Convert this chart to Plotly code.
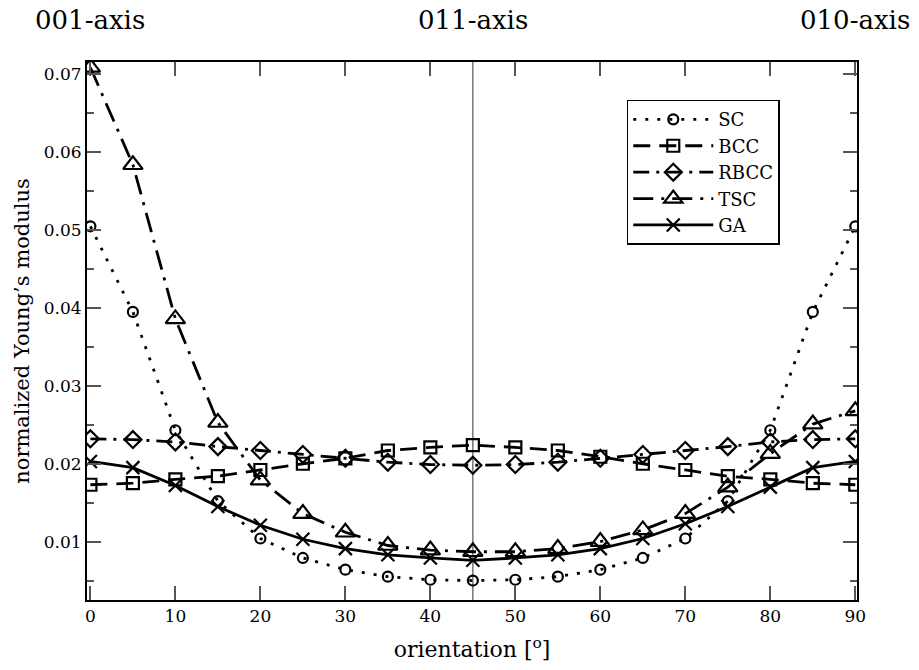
import plotly.graph_objects as go

orientation = [0, 5, 10, 15, 20, 25, 30, 35, 40, 45, 50, 55, 60, 65, 70, 75, 80, 85, 90]

sc = [0.0505, 0.0395, 0.0243, 0.0152, 0.0104, 0.0079, 0.0064, 0.0055, 0.0051, 0.0050,
      0.0051, 0.0055, 0.0064, 0.0079, 0.0104, 0.0152, 0.0243, 0.0395, 0.0505]
bcc = [0.0173, 0.0175, 0.0180, 0.0184, 0.0192, 0.0200, 0.0207, 0.0217, 0.0221, 0.0224,
       0.0221, 0.0217, 0.0209, 0.0200, 0.0192, 0.0184, 0.0180, 0.0175, 0.0173]
rbcc = [0.0232, 0.0231, 0.0228, 0.0222, 0.0217, 0.0212, 0.0207, 0.0202, 0.0199, 0.0198,
        0.0199, 0.0202, 0.0207, 0.0212, 0.0217, 0.0222, 0.0228, 0.0231, 0.0232]
tsc = [0.0709, 0.0584, 0.0386, 0.0253, 0.0179, 0.0136, 0.0112, 0.0095, 0.0089, 0.0087,
       0.0087, 0.0091, 0.0100, 0.0115, 0.0136, 0.0170, 0.0213, 0.0251, 0.0268]
ga = [0.0203, 0.0195, 0.0172, 0.0145, 0.0121, 0.0103, 0.0091, 0.0083, 0.0079, 0.0076,
      0.0079, 0.0083, 0.0091, 0.0104, 0.0123, 0.0145, 0.0170, 0.0195, 0.0203]

y_ticks = [0.01, 0.02, 0.03, 0.04, 0.05, 0.06, 0.07]
y_tick_labels = ["0.01", "0.02", "0.03", "0.04", "0.05", "0.06", "0.07"]
x_ticks = [0, 10, 20, 30, 40, 50, 60, 70, 80, 90]
top_labels = ["001-axis", "011-axis", "010-axis"]
top_label_x = [0, 45, 90]

FONT = "DejaVu Serif"

series = [
    ("SC", sc, "circle-open", 10, "3px,9px"),
    ("BCC", bcc, "square-open", 12, "17px,9px"),
    ("RBCC", rbcc, "diamond-open", 13, "16px,7px,3px,7px"),
    ("TSC", tsc, "triangle-up-open", 17, "20px,8px,3px,8px"),
    ("GA", ga, "x-thin-open", 13, "solid"),
]

fig = go.Figure()
for name, vals, sym, size, dash in series:
    fig.add_trace(go.Scatter(
        x=orientation, y=vals, name=name, mode="lines+markers",
        line=dict(color="black", width=2.8, dash=dash),
        marker=dict(symbol=sym, size=size, color="black",
                    line=dict(color="black", width=2.2)),
    ))

fig.add_vline(x=45, line=dict(color="#555555", width=1.2), layer="below")

for lab, xv in zip(top_labels, top_label_x):
    fig.add_annotation(x=xv, y=1.0, xref="x", yref="paper", yshift=42,
                       yanchor="middle", xanchor="center",
                       text=lab, showarrow=False,
                       font=dict(family=FONT, size=26, color="black"))

fig.update_layout(
    width=919, height=670,
    margin=dict(l=87, r=62, t=62, b=68),
    paper_bgcolor="white", plot_bgcolor="white",
    font=dict(family=FONT, size=17, color="black"),
    showlegend=True,
    legend=dict(x=0.701, y=0.93, xanchor="left", yanchor="top",
                bgcolor="white", bordercolor="black", borderwidth=1.5,
                font=dict(family=FONT, size=18), itemwidth=80,
                tracegroupgap=0),
    xaxis=dict(
        range=[-0.4, 90.2], tickvals=x_ticks,
        ticks="inside", ticklen=14, tickwidth=1.5, tickcolor="#555555",
        showline=True, linecolor="black", linewidth=2, mirror="ticks",
        showgrid=False, zeroline=False,
        tickfont=dict(family=FONT, size=17),
        title=dict(text="orientation [<sup>o</sup>]",
                   font=dict(family=FONT, size=22), standoff=16),
    ),
    yaxis=dict(
        range=[0.0025, 0.0716], tickvals=y_ticks, ticktext=y_tick_labels,
        ticks="inside", ticklen=14, tickwidth=1.5, tickcolor="#555555",
        showline=True, linecolor="black", linewidth=2, mirror="ticks",
        showgrid=False, zeroline=False,
        minor=dict(dtick=0.005, tick0=0.005, ticks="inside", ticklen=7,
                   tickwidth=1.5, tickcolor="#555555", showgrid=False),
        tickfont=dict(family=FONT, size=17),
        title=dict(text="normalized Young’s modulus",
                   font=dict(family=FONT, size=21), standoff=8),
    ),
)

fig.write_html("out.html")
